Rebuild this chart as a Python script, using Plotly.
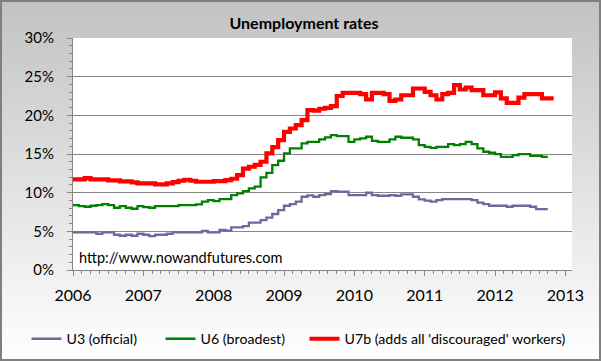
import base64
import plotly.graph_objects as go

# ---------------- data (monthly) ----------------
start_year = 2006
u3 = [4.87, 4.87, 4.87, 4.87, 4.69, 4.87, 4.87, 4.56, 4.43, 4.56, 4.43, 4.69,
      4.56, 4.39, 4.56, 4.56, 4.69, 4.87, 4.87, 4.87, 4.87, 4.87, 5.04, 4.87,
      4.87, 5.17, 5.08, 5.51, 5.51, 5.68, 6.12, 6.12, 6.46, 6.76, 7.24, 7.75,
      8.31, 8.53, 8.83, 9.47, 9.65, 9.47, 9.69, 9.82, 10.2, 10.12, 10.12, 9.69,
      9.69, 9.69, 9.99, 9.69, 9.6, 9.6, 9.69, 9.6, 9.78, 9.78, 9.47, 9.13,
      8.96, 8.83, 9.04, 9.17, 9.17, 9.17, 9.17, 9.17, 9.04, 8.7, 8.53, 8.31,
      8.31, 8.31, 8.18, 8.31, 8.31, 8.31, 8.18, 7.88, 7.88, 7.88]
u6 = [8.4, 8.27, 8.18, 8.31, 8.4, 8.53, 8.4, 8.05, 8.27, 8.05, 7.92, 8.27,
      8.14, 8.05, 8.27, 8.27, 8.27, 8.27, 8.4, 8.4, 8.4, 8.48, 8.83, 9.04,
      8.91, 9.17, 9.17, 9.69, 9.9, 10.2, 10.55, 10.77, 11.97, 12.57, 13.57, 14.13,
      15.07, 15.72, 15.72, 16.37, 16.58, 16.58, 16.88, 17.14, 17.44, 17.31, 17.31, 16.58,
      16.88, 17.01, 17.23, 16.71, 16.58, 16.58, 16.88, 17.23, 17.1, 17.1, 16.88, 16.15,
      15.93, 15.8, 15.93, 15.93, 16.28, 16.15, 16.28, 16.58, 16.28, 15.72, 15.29, 15.16,
      14.99, 14.64, 14.64, 14.86, 14.99, 14.99, 14.77, 14.77, 14.64, 14.64]
u7b = [11.72, 11.72, 11.89, 11.72, 11.72, 11.72, 11.58, 11.58, 11.46, 11.46, 11.33, 11.2,
       11.2, 11.2, 11.07, 11.07, 11.2, 11.37, 11.54, 11.67, 11.54, 11.41, 11.41, 11.41,
       11.5, 11.5, 11.63, 11.8, 12.27, 13.1, 13.35, 13.6, 14.0, 15.07, 15.9, 16.8,
       17.87, 18.3, 18.73, 19.38, 20.67, 20.6, 20.85, 20.97, 21.19, 22.5, 22.9, 22.9,
       22.9, 22.74, 22.05, 22.9, 22.9, 22.74, 21.88, 22.05, 22.6, 22.6, 23.47, 23.47,
       23.04, 22.6, 22.05, 22.74, 22.9, 23.9, 23.34, 23.6, 23.26, 23.26, 22.6, 22.6,
       22.96, 22.18, 21.6, 21.6, 22.3, 22.74, 22.74, 22.74, 22.18, 22.18, 22.18]
year_ticks = [2006, 2007, 2008, 2009, 2010, 2011, 2012, 2013]
series_names = ["U3 (official)", "U6 (broadest)", "U7b (adds all 'discouraged' workers)"]


def month_x(n):
    return [start_year + i / 12 for i in range(n)]


W, H = 601, 361
ML, MR, MT, MB = 73, 29, 38, 91
PW, PH = W - ML - MR, H - MT - MB
FONT = "Lato"

fig = go.Figure()
fig.add_trace(go.Scatter(x=month_x(len(u3)), y=u3, name=series_names[0], mode="lines",
                         legendwidth=89,
                         line=dict(color="#6a6a9e", width=2.3, shape="hv")))
fig.add_trace(go.Scatter(x=month_x(len(u6)), y=u6, name=series_names[1], mode="lines",
                         legendwidth=99,
                         line=dict(color="#008000", width=2.3, shape="hv")))
fig.add_trace(go.Scatter(x=month_x(len(u7b)), y=u7b, name=series_names[2], mode="lines",
                         line=dict(color="#ff0000", width=4.2, shape="hv")))

svg = (f'<svg xmlns="http://www.w3.org/2000/svg" width="{W}" height="{H}">'
       '<defs><linearGradient id="g" x1="0" y1="0" x2="0" y2="1">'
       '<stop offset="0" stop-color="#c2c2c2"/><stop offset="1" stop-color="#ffffff"/>'
       '</linearGradient></defs>'
       f'<rect x="0" y="0" width="{W}" height="{H}" fill="url(#g)"/>'
       f'<rect x="1" y="1" width="{W-2}" height="{H-2}" fill="none" '
       'stroke="#7f7f7f" stroke-width="2"/></svg>')
src = "data:image/svg+xml;base64," + base64.b64encode(svg.encode()).decode()

axis_col = "#868686"
fig.update_layout(
    width=W, height=H,
    margin=dict(l=ML, r=MR, t=MT, b=MB, pad=0, autoexpand=False),
    paper_bgcolor="#dcdcdc", plot_bgcolor="white",
    font=dict(family=FONT, color="black", size=14),
    title=dict(text="<b>Unemployment rates</b>", x=304 / W, xanchor="center",
               y=1 - 23 / H, yanchor="middle", font=dict(size=16, family=FONT)),
    images=[dict(source=src, xref="paper", yref="paper", x=-ML / PW, y=1 + MT / PH,
                 sizex=W / PW, sizey=H / PH, xanchor="left", yanchor="top",
                 sizing="stretch", layer="below")],
    shapes=[dict(type="rect", xref="paper", yref="paper", x0=0, x1=1, y0=0, y1=1,
                 fillcolor="white", line=dict(width=0), layer="below")],
    xaxis=dict(range=[2006, 2013.094], tickvals=year_ticks, tickformat="d",
               showgrid=False, zeroline=False, showline=True, linecolor=axis_col,
               linewidth=1, ticks="outside", ticklen=5, tickcolor=axis_col,
               tickfont=dict(size=16), ticklabelstandoff=6, automargin=False,
               minor=dict(ticks="outside", ticklen=3, dtick=0.125, tick0=2006,
                          tickcolor=axis_col, showgrid=False)),
    yaxis=dict(range=[0, 30], dtick=5, ticksuffix="%", showgrid=True,
               gridcolor=axis_col, gridwidth=1, zeroline=False, showline=True,
               linecolor=axis_col, linewidth=1, ticks="outside", ticklen=5,
               tickcolor=axis_col, tickfont=dict(size=15), ticklabelstandoff=10,
               automargin=False,
               minor=dict(ticks="outside", ticklen=3, dtick=1, tickcolor=axis_col,
                          showgrid=False)),
    legend=dict(orientation="h", x=(26.5 - ML) / PW, xanchor="left",
                y=-(339 - 270) / PH, yanchor="middle", bgcolor="rgba(0,0,0,0)",
                font=dict(size=14.2, family=FONT)),
    annotations=[dict(text="http://www.nowandfutures.com", xref="paper", yref="paper",
                      x=(77 - ML) / PW, y=(270 - 257) / PH, xanchor="left",
                      yanchor="middle", showarrow=False,
                      font=dict(size=14.5, family=FONT, color="black"))],
)

fig.write_html("out.html", config={"displayModeBar": False},
               post_script="document.body.style.margin='0';")
